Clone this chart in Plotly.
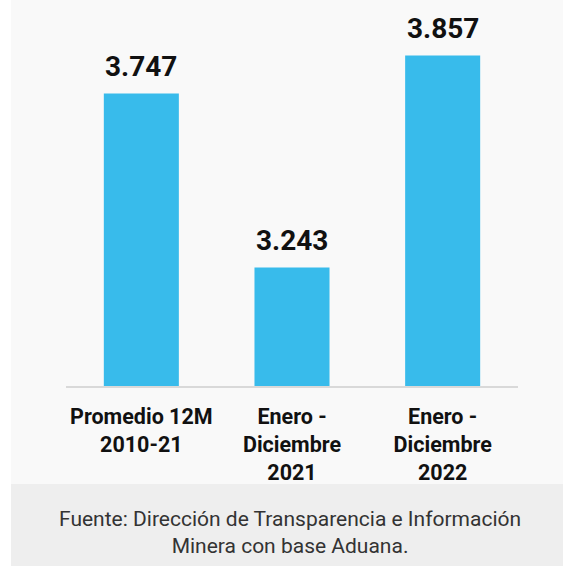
import plotly.graph_objects as go

categories = ["Promedio 12M<br>2010-21", "Enero -<br>Diciembre<br>2021", "Enero -<br>Diciembre<br>2022"]
values = [3.747, 3.243, 3.857]
value_labels = ["3.747", "3.243", "3.857"]
source_text = "Fuente: Dirección de Transparencia e Información<br>Minera con base Aduana."

W, H = 563, 566
L, R, T, B = 66, 45, 20, 180
pw, ph = W - L - R, H - T - B

def px_x(p):
    return (p - L) / pw

def px_y(p):
    return (H - B - p) / ph

fig = go.Figure()
fig.add_trace(go.Bar(
    x=categories, y=values, marker_color="#38bbeb", marker_line_width=0,
    hoverinfo="skip", cliponaxis=False,
))

for c, v, t in zip(categories, values, value_labels):
    fig.add_annotation(x=c, y=v, xref="x", yref="y", text=t, showarrow=False,
                       yanchor="bottom", yshift=9,
                       font=dict(family="Roboto", size=28, color="#111111", weight="bold"))

fig.add_annotation(x=px_x(290), y=px_y(532), xref="paper", yref="paper",
                   text=source_text, showarrow=False, xanchor="center", yanchor="middle",
                   align="center", font=dict(family="Roboto", size=21, color="#333333"))

fig.add_shape(type="rect", xref="paper", yref="paper", layer="below",
              x0=px_x(11), x1=px_x(W + 20), y0=px_y(484), y1=px_y(-20),
              fillcolor="#f9f9f9", line_width=0)
fig.add_shape(type="rect", xref="paper", yref="paper", layer="below",
              x0=px_x(11), x1=px_x(W + 20), y0=px_y(H + 20), y1=px_y(484),
              fillcolor="#eeeeee", line_width=0)

fig.update_layout(
    width=W, height=H,
    margin=dict(l=L, r=R, t=T, b=B),
    paper_bgcolor="#ffffff", plot_bgcolor="rgba(0,0,0,0)",
    bargap=0.502, showlegend=False,
    xaxis=dict(showline=True, linecolor="#d9d9d9", linewidth=2, showgrid=False,
               ticks="", ticklabelstandoff=10,
               tickfont=dict(family="Roboto", size=21.5, color="#111111", weight="bold")),
    yaxis=dict(range=[2.9, 2.9 + ph / 345.3], visible=False, showgrid=False, zeroline=False),
)

fig.write_html("out.html", config={"displayModeBar": False},
               post_script="document.body.style.margin='0';document.body.style.overflow='hidden';")
